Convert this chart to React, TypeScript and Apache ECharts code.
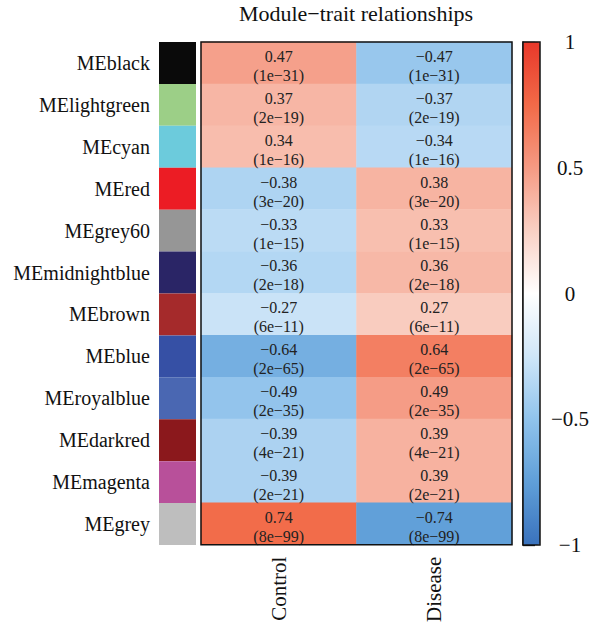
import React, { useEffect, useRef } from "react";
import * as echarts from "echarts";

const modules = [
  "MEblack", "MElightgreen", "MEcyan", "MEred", "MEgrey60", "MEmidnightblue",
  "MEbrown", "MEblue", "MEroyalblue", "MEdarkred", "MEmagenta", "MEgrey",
];
const moduleColors = [
  "#0a0a0a", "#9ccf87", "#6ccbdc", "#ec1c24", "#969696", "#2a2566",
  "#a52a2b", "#3650a5", "#4a67b2", "#8b181c", "#b8509a", "#bebebe",
];
const traits = ["Control", "Disease"];
const controlCor = [0.47, 0.37, 0.34, -0.38, -0.33, -0.36, -0.27, -0.64, -0.49, -0.39, -0.39, 0.74];
const diseaseCor = [-0.47, -0.37, -0.34, 0.38, 0.33, 0.36, 0.27, 0.64, 0.49, 0.39, 0.39, -0.74];
const pValues = ["1e-31", "2e-19", "1e-16", "3e-20", "1e-15", "2e-18", "6e-11", "2e-65", "2e-35", "4e-21", "2e-21", "8e-99"];
const colorbarTicks = [-1, -0.5, 0, 0.5, 1];
const paletteStops = [
  "#3a72bd", "#5f9fd8", "#90c3ec", "#cfe6f8", "#ffffff",
  "#f9d0c4", "#f59a83", "#f26a48", "#e8382a",
];

const FONT = "Liberation Serif, DejaVu Serif, serif";
const minus = (s: string) => s.replace(/-/g, "\u2212");

export default function App() {
  const ref = useRef<HTMLDivElement>(null);
  useEffect(() => {
    if (!ref.current) return;
    const chart = echarts.init(ref.current, undefined, { renderer: "svg" });
    const heatData: any[] = [];
    modules.forEach((_, i) => {
      heatData.push({ value: [0, i, controlCor[i]], p: pValues[i] });
      heatData.push({ value: [1, i, diseaseCor[i]], p: pValues[i] });
    });
    const option: any = {
      animation: false,
      backgroundColor: "#ffffff",
      textStyle: { fontFamily: FONT },
      graphic: [
        {
          type: "text",
          x: 356,
          y: 13,
          style: {
            text: minus("Module-trait relationships"),
            fontFamily: FONT,
            fontSize: 22,
            fill: "#111",
            textAlign: "center",
            textVerticalAlign: "middle",
          },
        },
      ],
      grid: [
        { left: 201, top: 42, width: 311, height: 503, show: true, borderColor: "#111", borderWidth: 1.5, backgroundColor: "transparent", z: 10 },
        { left: 159, top: 42, width: 37, height: 503 },
        { left: 523, top: 42, width: 17, height: 503, show: true, borderColor: "#111", borderWidth: 1.5, backgroundColor: "transparent", z: 10 },
      ],
      xAxis: [
        {
          gridIndex: 0,
          type: "category",
          data: traits,
          position: "bottom",
          axisLine: { show: false },
          axisTick: { show: false },
          splitLine: { show: false },
          axisLabel: { rotate: 90, fontSize: 21, margin: 12, color: "#111", fontFamily: FONT },
        },
        { gridIndex: 1, type: "value", min: 0, max: 1, show: false },
        { gridIndex: 2, type: "value", min: 0, max: 1, show: false },
      ],
      yAxis: [
        { gridIndex: 0, type: "category", data: modules, inverse: true, show: false },
        {
          gridIndex: 1,
          type: "category",
          data: modules,
          inverse: true,
          axisLine: { show: false },
          axisTick: { show: false },
          splitLine: { show: false },
          axisLabel: { fontSize: 20, margin: 9, color: "#111", fontFamily: FONT },
        },
        {
          gridIndex: 2,
          type: "value",
          min: -1,
          max: 1,
          interval: 0.5,
          position: "right",
          splitLine: { show: false },
          axisLine: { show: true, lineStyle: { color: "#111", width: 1.5 } },
          axisTick: { show: true, inside: false, length: 12, lineStyle: { color: "#111", width: 1.3 } },
          axisLabel: {
            fontSize: 21,
            color: "#111",
            fontFamily: FONT,
            align: "center",
            margin: 30,
            formatter: (v: number) => (colorbarTicks.includes(v) ? minus(String(v)) : ""),
          },
        },
      ],
      visualMap: {
        type: "continuous",
        seriesIndex: 0,
        min: -1,
        max: 1,
        show: true,
        calculable: false,
        left: 523,
        top: 42,
        padding: 0,
        itemWidth: 17,
        itemHeight: 503,
        text: null,
        hoverLink: false,
        inRange: { color: paletteStops },
      },
      series: [
        {
          type: "heatmap",
          xAxisIndex: 0,
          yAxisIndex: 0,
          data: heatData,
          emphasis: { disabled: true },
          label: {
            show: true,
            color: "#222",
            fontSize: 16,
            lineHeight: 19,
            offset: [0, 3],
            fontFamily: FONT,
            formatter: (p: any) => minus(p.data.value[2].toFixed(2)) + "\n(" + minus(p.data.p) + ")",
          },
        },
        {
          type: "bar",
          xAxisIndex: 1,
          yAxisIndex: 1,
          barWidth: "100%",
          barCategoryGap: 0,
          silent: true,
          data: modules.map((_, i) => ({ value: 1, itemStyle: { color: moduleColors[i] } })),
        },
        { type: "scatter", xAxisIndex: 2, yAxisIndex: 2, data: [] },
      ],
    };
    chart.setOption(option);
    return () => chart.dispose();
  }, []);
  return (
    <div
      ref={ref}
      style={{ position: "fixed", left: 0, top: 0, width: 600, height: 625 }}
    />
  );
}
